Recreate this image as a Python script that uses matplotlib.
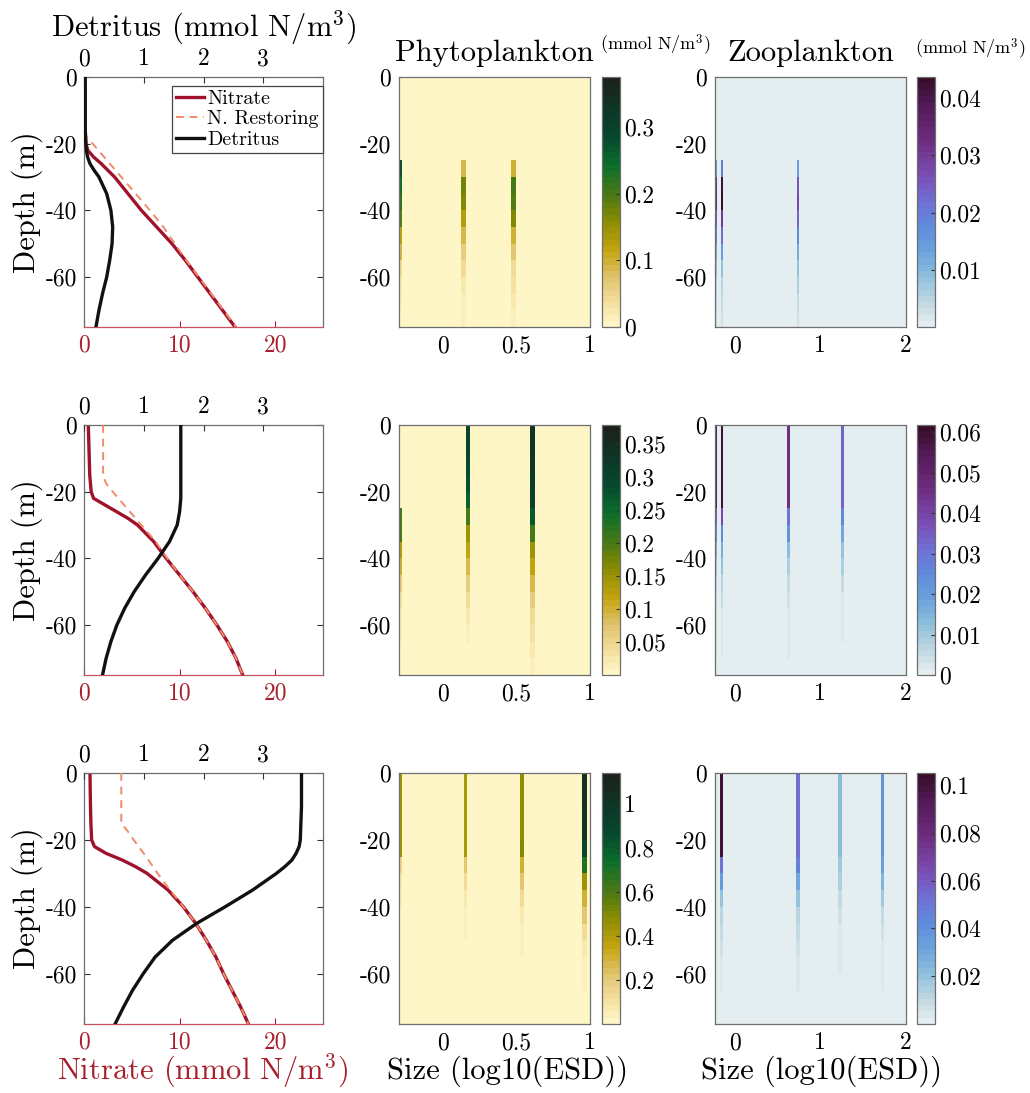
import warnings
import numpy as np
import matplotlib
matplotlib.use("Agg")
import matplotlib.pyplot as plt
from matplotlib.colors import LinearSegmentedColormap
from matplotlib.ticker import FuncFormatter, FixedLocator
from matplotlib.lines import Line2D

warnings.filterwarnings("ignore")

plt.rcParams["font.family"] = ["cmr10", "DejaVu Serif"]
plt.rcParams["mathtext.fontset"] = "cm"
plt.rcParams["axes.unicode_minus"] = False

# ---------------------------------------------------------------- profiles
depth = [0, -5, -10, -15, -20, -22, -24, -26, -28, -30, -35, -40, -45, -50,
         -55, -60, -65, -70, -75]

nitrate_1 = [0.1, 0.1, 0.1, 0.1, 0.2, 0.4, 1.0, 1.8, 2.5, 3.2, 4.6, 6.0, 7.6,
             9.2, 10.6, 11.9, 13.2, 14.5, 15.8]
nitrate_2 = [0.45, 0.5, 0.55, 0.6, 0.75, 1.0, 2.2, 3.4, 4.6, 5.6, 7.3, 8.6,
             10.0, 11.4, 12.7, 13.9, 15.0, 15.9, 16.6]
nitrate_3 = [0.63, 0.65, 0.68, 0.72, 0.8, 1.1, 2.3, 4.0, 5.4, 6.6, 8.8, 10.4,
             11.7, 12.8, 13.8, 14.6, 15.5, 16.4, 17.2]

detritus_1 = [0.02, 0.02, 0.02, 0.02, 0.03, 0.04, 0.06, 0.10, 0.17, 0.25,
              0.38, 0.45, 0.48, 0.47, 0.43, 0.38, 0.31, 0.25, 0.20]
detritus_2 = [1.62, 1.62, 1.62, 1.62, 1.62, 1.62, 1.61, 1.60, 1.58, 1.56,
              1.43, 1.24, 1.03, 0.84, 0.68, 0.55, 0.45, 0.37, 0.31]
detritus_3 = [3.64, 3.64, 3.64, 3.63, 3.62, 3.60, 3.55, 3.48, 3.36, 3.22,
              2.82, 2.36, 1.88, 1.48, 1.19, 0.99, 0.81, 0.66, 0.52]

restore_depth = [0, -15, -17.5, -20, -25, -30, -35, -40, -45, -50, -55, -60,
                 -65, -70, -75]
restore_1 = [0, 0, 0.1, 0.9, 2.4, 3.9, 5.4, 6.9, 8.3, 9.5, 10.7, 12.0, 13.3,
             14.6, 15.9]
restore_2 = [2.0, 2.0, 2.3, 3.0, 4.5, 6.0, 7.5, 8.7, 10.0, 11.4, 12.7, 13.9,
             15.0, 15.9, 16.6]
restore_3 = [3.9, 3.9, 4.6, 5.2, 6.5, 7.7, 9.0, 10.4, 11.7, 12.8, 13.8, 14.6,
             15.5, 16.4, 17.2]

# ---------------------------------------------------------------- size classes
layer_edges = [0, -5, -10, -15, -20, -25, -30, -35, -40, -45, -50, -55, -60,
               -65, -70, -75]

phyto_pos_1 = [-0.29, 0.14, 0.48]
phyto_width_1 = [0.02, 0.03, 0.03]
phyto_1 = [
    [0, 0, 0, 0, 0, 0.28, 0.24, 0.22, 0.19, 0.12, 0.09, 0.04, 0.02, 0.01, 0.005],
    [0, 0, 0, 0, 0, 0.09, 0.17, 0.16, 0.13, 0.09, 0.06, 0.04, 0.025, 0.015, 0.01],
    [0, 0, 0, 0, 0, 0.10, 0.20, 0.19, 0.16, 0.10, 0.07, 0.045, 0.03, 0.02, 0.012],
]
phyto_pos_2 = [-0.29, 0.17, 0.61]
phyto_width_2 = [0.02, 0.027, 0.036]
phyto_2 = [
    [0, 0, 0, 0, 0, 0.20, 0.20, 0.13, 0.10, 0.06, 0.03, 0.015, 0.01, 0.005, 0],
    [0.30, 0.30, 0.29, 0.28, 0.26, 0.20, 0.15, 0.12, 0.09, 0.06, 0.04, 0.025, 0.015, 0.008, 0.004],
    [0.34, 0.34, 0.33, 0.32, 0.31, 0.27, 0.20, 0.15, 0.12, 0.09, 0.06, 0.04, 0.03, 0.02, 0.012],
]
phyto_pos_3 = [-0.29, 0.153, 0.54, 0.96]
phyto_width_3 = [0.02, 0.022, 0.028, 0.035]
phyto_3 = [
    [0.45, 0.45, 0.45, 0.45, 0.45, 0.15, 0.08, 0.04, 0.02, 0.01, 0.005, 0, 0, 0, 0],
    [0.42, 0.42, 0.42, 0.42, 0.42, 0.22, 0.12, 0.08, 0.05, 0.03, 0.02, 0.01, 0.005, 0, 0],
    [0.47, 0.47, 0.47, 0.47, 0.50, 0.30, 0.20, 0.12, 0.08, 0.05, 0.03, 0.02, 0.01, 0.005, 0],
    [1.05, 1.05, 1.02, 1.00, 0.90, 0.70, 0.45, 0.30, 0.20, 0.12, 0.07, 0.04, 0.03, 0.02, 0.01],
]

zoo_pos_1 = [-0.215, -0.145, 0.74]
zoo_width_1 = [0.025, 0.025, 0.03]
zoo_1 = [
    [0, 0, 0, 0, 0, 0.015, 0.032, 0.036, 0.026, 0.020, 0.012, 0.008, 0.005, 0.004, 0.003],
    [0, 0, 0, 0, 0, 0.020, 0.042, 0.043, 0.030, 0.022, 0.014, 0.008, 0.005, 0.004, 0.003],
    [0, 0, 0, 0, 0, 0.014, 0.026, 0.028, 0.024, 0.018, 0.011, 0.008, 0.006, 0.004, 0.003],
]
zoo_pos_2 = [-0.215, -0.15, 0.63, 1.26]
zoo_width_2 = [0.025, 0.025, 0.03, 0.03]
zoo_2 = [
    [0.055, 0.055, 0.055, 0.055, 0.055, 0.035, 0.024, 0.014, 0.010, 0.006, 0.004, 0.003, 0.002, 0.002, 0.001],
    [0.060, 0.060, 0.060, 0.060, 0.060, 0.040, 0.025, 0.016, 0.011, 0.007, 0.005, 0.003, 0.002, 0.002, 0.001],
    [0.045, 0.045, 0.045, 0.045, 0.045, 0.030, 0.022, 0.013, 0.009, 0.006, 0.004, 0.003, 0.002, 0.002, 0.001],
    [0.033, 0.033, 0.033, 0.033, 0.033, 0.025, 0.018, 0.012, 0.008, 0.005, 0.003, 0.002, 0.002, 0.001, 0.001],
]
zoo_pos_3 = [-0.152, 0.74, 1.23, 1.72]
zoo_width_3 = [0.035, 0.04, 0.04, 0.035]
zoo_3 = [
    [0.100, 0.100, 0.100, 0.100, 0.100, 0.050, 0.035, 0.020, 0.012, 0.008, 0.006, 0.004, 0.003, 0.002, 0.001],
    [0.055, 0.055, 0.055, 0.055, 0.055, 0.045, 0.030, 0.020, 0.012, 0.008, 0.006, 0.004, 0.003, 0.002, 0.001],
    [0.022, 0.022, 0.022, 0.022, 0.022, 0.018, 0.014, 0.010, 0.007, 0.005, 0.004, 0.003, 0.002, 0.001, 0.001],
    [0.038, 0.038, 0.038, 0.038, 0.038, 0.032, 0.024, 0.016, 0.010, 0.007, 0.005, 0.004, 0.003, 0.002, 0.001],
]

phyto_vmax = [0.375, 0.378, 1.14]
phyto_ticks = [[0, 0.1, 0.2, 0.3],
               [0.05, 0.1, 0.15, 0.2, 0.25, 0.3, 0.35],
               [0.2, 0.4, 0.6, 0.8, 1]]
zoo_vmax = [0.0437, 0.0618, 0.105]
zoo_ticks = [[0.01, 0.02, 0.03, 0.04],
             [0, 0.01, 0.02, 0.03, 0.04, 0.05, 0.06],
             [0.02, 0.04, 0.06, 0.08, 0.1]]

nitrate_ticks = [0, 10, 20]
detritus_ticks = [0, 1, 2, 3]
depth_ticks = [0, -20, -40, -60]
phyto_xticks = [0, 0.5, 1]
zoo_xticks = [0, 1, 2]

# ---------------------------------------------------------------- colours
speed = LinearSegmentedColormap.from_list("speed_like", [
    (0.00, "#FFF6C8"), (0.10, "#F2DC98"), (0.20, "#DEC068"), (0.30, "#C4A510"),
    (0.42, "#8C8C00"), (0.52, "#4F7A14"), (0.65, "#0A6E2A"), (0.76, "#064A2F"),
    (0.88, "#0E3726"), (1.00, "#1C211A")], N=40)
dense = LinearSegmentedColormap.from_list("dense_like", [
    (0.00, "#E4EDEF"), (0.10, "#BCD6E0"), (0.20, "#8CBEDB"), (0.30, "#6AA2DC"),
    (0.40, "#5F8CDC"), (0.50, "#6E70D4"), (0.60, "#7A50B8"), (0.75, "#6E2C80"),
    (0.90, "#521A55"), (1.00, "#360E28")], N=40)

NITRATE_C = "#A0122A"
RESTORE_C = "#F08A6A"
LABEL_RED = "#A8202E"
SPINE_C = "#6E6E6E"

W, H = 1030, 1093
fig = plt.figure(figsize=(W / 100, H / 100), dpi=100)


def box(x0, y0, x1, y1):
    return [x0 / W, 1 - y1 / H, (x1 - x0) / W, (y1 - y0) / H]


fmt = FuncFormatter(lambda v, p: f"{v:g}")
TICK_FS = 17
LABEL_FS = 22
row_tops = [77, 425, 773]
row_bots = [327, 675, 1024]

nitrates = [nitrate_1, nitrate_2, nitrate_3]
detrituses = [detritus_1, detritus_2, detritus_3]
restores = [restore_1, restore_2, restore_3]
phytos = [(phyto_pos_1, phyto_width_1, phyto_1),
          (phyto_pos_2, phyto_width_2, phyto_2),
          (phyto_pos_3, phyto_width_3, phyto_3)]
zoos = [(zoo_pos_1, zoo_width_1, zoo_1),
        (zoo_pos_2, zoo_width_2, zoo_2),
        (zoo_pos_3, zoo_width_3, zoo_3)]


def stripe_mesh(pos, widths, profiles, xmin, xmax):
    """Column edges and cell values for narrow size-class stripes."""
    edges = [xmin]
    cols = []
    for c, w, prof in sorted(zip(pos, widths, profiles), key=lambda t: t[0]):
        lo, hi = max(c - w / 2, xmin), min(c + w / 2, xmax)
        if lo > edges[-1]:
            edges.append(lo)
            cols.append([0.0] * (len(layer_edges) - 1))
        edges.append(hi)
        cols.append(prof)
    if edges[-1] < xmax:
        edges.append(xmax)
        cols.append([0.0] * (len(layer_edges) - 1))
    return np.array(edges), np.array(cols).T


def style_heat(ax):
    for s in ax.spines.values():
        s.set_color(SPINE_C)
        s.set_linewidth(0.9)
    ax.set_ylim(-75, 0)
    ax.yaxis.set_major_locator(FixedLocator(depth_ticks))
    ax.yaxis.set_major_formatter(fmt)
    ax.xaxis.set_major_formatter(fmt)
    ax.tick_params(length=0, labelsize=TICK_FS, pad=6)


def style_cbar(cb, ticks):
    cb.set_ticks(ticks)
    cb.ax.yaxis.set_major_formatter(fmt)
    cb.outline.set_edgecolor(SPINE_C)
    cb.outline.set_linewidth(0.9)
    cb.ax.tick_params(direction="in", length=3, width=0.8, color="#333333",
                      labelsize=TICK_FS, pad=3)


for r in range(3):
    y0, y1 = row_tops[r], row_bots[r]

    # ---- nitrate / detritus profiles
    ax = fig.add_axes(box(84, y0, 323, y1))
    ax.plot(restores[r], restore_depth, color=RESTORE_C, lw=1.4,
            ls=(0, (4, 3)), zorder=3)
    ax.plot(nitrates[r], depth, color=NITRATE_C, lw=2.4, zorder=2)
    ax.set_xlim(0, 25)
    ax.set_ylim(-75, 0)
    ax.xaxis.set_major_locator(FixedLocator(nitrate_ticks))
    ax.yaxis.set_major_locator(FixedLocator(depth_ticks))
    ax.xaxis.set_major_formatter(fmt)
    ax.yaxis.set_major_formatter(fmt)
    ax.tick_params(axis="x", direction="in", length=4, colors=LABEL_RED,
                   labelsize=TICK_FS, pad=5)
    ax.tick_params(axis="y", direction="in", length=4, right=True,
                   labelsize=TICK_FS, color="#333333", pad=5)
    for name, s in ax.spines.items():
        s.set_color(SPINE_C)
        s.set_linewidth(0.9)
    ax.spines["bottom"].set_color("#C8505C")
    ax.set_ylabel("Depth (m)", fontsize=LABEL_FS, labelpad=2)

    axd = ax.twiny()
    axd.plot(detrituses[r], depth, color="#111111", lw=2.4, zorder=2)
    axd.set_xlim(0, 4)
    axd.xaxis.set_major_locator(FixedLocator(detritus_ticks))
    axd.xaxis.set_major_formatter(fmt)
    axd.tick_params(axis="x", direction="in", length=4, color="#333333",
                    labelsize=TICK_FS, pad=5)
    for s in axd.spines.values():
        s.set_visible(False)

    if r == 0:
        axd.set_xlabel("Detritus (mmol N/m$^3$)", fontsize=LABEL_FS,
                       labelpad=8)
        handles = [Line2D([], [], color=NITRATE_C, lw=2.4),
                   Line2D([], [], color=RESTORE_C, lw=1.4, ls=(0, (4, 3))),
                   Line2D([], [], color="#111111", lw=2.4)]
        leg = axd.legend(handles, ["Nitrate", "N. Restoring", "Detritus"],
                         loc="upper right", bbox_to_anchor=(1.0, 0.965),
                         fontsize=14.5, fancybox=False, framealpha=1,
                         handlelength=1.4, handletextpad=0.15,
                         labelspacing=0.12, borderpad=0.2,
                         borderaxespad=0.0)
        leg.get_frame().set_edgecolor("#444444")
        leg.get_frame().set_linewidth(0.9)

    # ---- phytoplankton
    axp = fig.add_axes(box(399, y0, 590, y1))
    xe, C = stripe_mesh(*phytos[r], -0.3, 1.0)
    mp = axp.pcolormesh(xe, layer_edges, C, cmap=speed, vmin=0,
                        vmax=phyto_vmax[r], shading="flat")
    axp.set_xlim(-0.3, 1.0)
    axp.xaxis.set_major_locator(FixedLocator(phyto_xticks))
    style_heat(axp)
    cax = fig.add_axes(box(602, y0, 620, y1))
    cb = fig.colorbar(mp, cax=cax)
    style_cbar(cb, phyto_ticks[r])

    # ---- zooplankton
    axz = fig.add_axes(box(715, y0, 906, y1))
    xe, C = stripe_mesh(*zoos[r], -0.23, 2.0)
    mz = axz.pcolormesh(xe, layer_edges, C, cmap=dense, vmin=0,
                        vmax=zoo_vmax[r], shading="flat")
    axz.set_xlim(-0.23, 2.0)
    axz.xaxis.set_major_locator(FixedLocator(zoo_xticks))
    style_heat(axz)
    cax = fig.add_axes(box(917, y0, 935, y1))
    cb = fig.colorbar(mz, cax=cax)
    style_cbar(cb, zoo_ticks[r])

# ---------------------------------------------------------------- headings
fig.text(494 / W, 1 - 53 / H, "Phytoplankton", fontsize=LABEL_FS,
         ha="center", va="center")
fig.text(655 / W, 1 - 45 / H, "(mmol N/m$^3$)", fontsize=13,
         ha="center", va="center")
fig.text(811 / W, 1 - 53 / H, "Zooplankton", fontsize=LABEL_FS,
         ha="center", va="center")
fig.text(970 / W, 1 - 49 / H, "(mmol N/m$^3$)", fontsize=13,
         ha="center", va="center")
fig.text(203 / W, 1 - 1071 / H, "Nitrate (mmol N/m$^3$)", fontsize=LABEL_FS,
         color=LABEL_RED, ha="center", va="center")
fig.text(508 / W, 1 - 1071 / H, "Size (log10(ESD))", fontsize=LABEL_FS,
         ha="center", va="center")
fig.text(822 / W, 1 - 1071 / H, "Size (log10(ESD))", fontsize=LABEL_FS,
         ha="center", va="center")

fig.savefig("out.png", dpi=100)
